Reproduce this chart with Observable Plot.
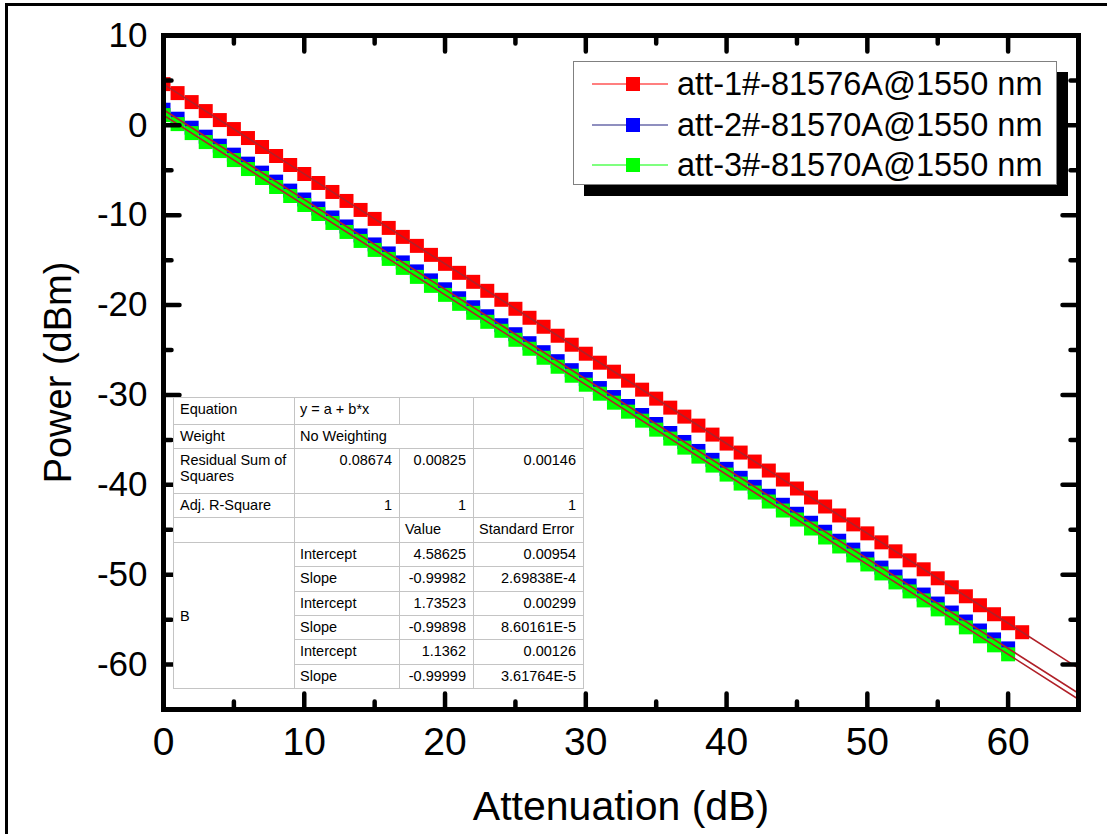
<!DOCTYPE html>
<html>
<head>
<meta charset="utf-8">
<script src="https://cdn.jsdelivr.net/npm/d3@7"></script>
<script src="https://cdn.jsdelivr.net/npm/@observablehq/plot@0.6"></script>
<style>
  html, body { margin: 0; padding: 0; background: #fff; }
  #wrap { position: relative; width: 1107px; height: 834px; overflow: hidden; background: #fff;
          font-family: "Liberation Sans", Arial, sans-serif; }
  #border { position: absolute; left: 5px; top: 3px; width: 1300px; height: 1000px;
            border-top: 3px solid #000; border-left: 3px solid #000; pointer-events: none; }
  #legend { position: absolute; left: 573px; top: 61px; width: 482px; height: 122px; background: #fff;
            border: 1px solid #808080; box-shadow: 11px 11px 0 #000; }
  .item { position: absolute; left: 0; height: 36px; display: flex; align-items: center; }
  .item svg { margin-left: 18px; }
  .item span { margin-left: 9px; font-size: 32.5px; color: #000; white-space: nowrap; }
  #fit { position: absolute; left: 173px; top: 397px; border-collapse: collapse; background: #fff;
         font-size: 14.5px; color: #000; border: 1px solid #8c8c8c; table-layout: fixed; }
  #fit td { border: 1px solid #c4c4c4; padding: 3px 7px 0 5px; vertical-align: top; line-height: 16px;
            white-space: nowrap; overflow: hidden; }
  #fit td.first { padding-left: 6px; padding-right: 0; }
  #fit td.r { text-align: right; }
  #fit td.m { vertical-align: middle; padding-top: 0; }
</style>
</head>
<body>
<div id="wrap"><div id="chart"></div><div id="border"></div></div>
<script>
// ---- data ----
const seriesNames = ["att-1#-81576A@1550 nm", "att-2#-81570A@1550 nm", "att-3#-81570A@1550 nm"];
const seriesColors = ["#ff0000", "#0000ff", "#00ff00"];

const atten1 = [0,1,2,3,4,5,6,7,8,9,10,11,12,13,14,15,16,17,18,19,20,21,22,23,24,25,26,27,28,29,30,31,32,33,34,35,36,37,38,39,40,41,42,43,44,45,46,47,48,49,50,51,52,53,54,55,56,57,58,59,60,61];
const power1 = [4.59,3.59,2.59,1.59,0.59,-0.41,-1.41,-2.41,-3.41,-4.41,-5.41,-6.41,-7.41,-8.41,-9.41,-10.41,-11.41,-12.41,-13.41,-14.41,-15.41,-16.41,-17.41,-18.41,-19.41,-20.41,-21.41,-22.41,-23.41,-24.41,-25.41,-26.41,-27.41,-28.41,-29.41,-30.41,-31.41,-32.41,-33.41,-34.41,-35.41,-36.41,-37.41,-38.41,-39.41,-40.41,-41.41,-42.41,-43.41,-44.40,-45.40,-46.40,-47.40,-48.40,-49.40,-50.40,-51.40,-52.40,-53.40,-54.40,-55.40,-56.40];

const atten2 = [0,1,2,3,4,5,6,7,8,9,10,11,12,13,14,15,16,17,18,19,20,21,22,23,24,25,26,27,28,29,30,31,32,33,34,35,36,37,38,39,40,41,42,43,44,45,46,47,48,49,50,51,52,53,54,55,56,57,58,59,60];
const power2 = [1.74,0.74,-0.26,-1.26,-2.26,-3.26,-4.26,-5.26,-6.26,-7.26,-8.25,-9.25,-10.25,-11.25,-12.25,-13.25,-14.25,-15.25,-16.25,-17.25,-18.24,-19.24,-20.24,-21.24,-22.24,-23.24,-24.24,-25.24,-26.24,-27.24,-28.23,-29.23,-30.23,-31.23,-32.23,-33.23,-34.23,-35.23,-36.23,-37.22,-38.22,-39.22,-40.22,-41.22,-42.22,-43.22,-44.22,-45.22,-46.22,-47.21,-48.21,-49.21,-50.21,-51.21,-52.21,-53.21,-54.21,-55.21,-56.21,-57.20,-58.20];

const atten3 = [0,1,2,3,4,5,6,7,8,9,10,11,12,13,14,15,16,17,18,19,20,21,22,23,24,25,26,27,28,29,30,31,32,33,34,35,36,37,38,39,40,41,42,43,44,45,46,47,48,49,50,51,52,53,54,55,56,57,58,59,60];
const power3 = [1.14,0.14,-0.86,-1.86,-2.86,-3.86,-4.86,-5.86,-6.86,-7.86,-8.86,-9.86,-10.86,-11.86,-12.86,-13.86,-14.86,-15.86,-16.86,-17.86,-18.86,-19.86,-20.86,-21.86,-22.86,-23.86,-24.86,-25.86,-26.86,-27.86,-28.86,-29.86,-30.86,-31.86,-32.86,-33.86,-34.86,-35.86,-36.86,-37.86,-38.86,-39.86,-40.86,-41.86,-42.86,-43.86,-44.86,-45.86,-46.86,-47.86,-48.86,-49.86,-50.86,-51.86,-52.86,-53.86,-54.86,-55.86,-56.86,-57.86,-58.86];

// linear fit results (from the fit table)
const fitIntercepts = [4.58625, 1.73523, 1.1362];
const fitSlopes = [-0.99982, -0.99898, -0.99999];
const fitInterceptErr = ["0.00954", "0.00299", "0.00126"];
const fitSlopeErr = ["2.69838E-4", "8.60161E-5", "3.61764E-5"];
const fitInterceptText = ["4.58625", "1.73523", "1.1362"];
const fitSlopeText = ["-0.99982", "-0.99898", "-0.99999"];
const residualSS = ["0.08674", "0.00825", "0.00146"];
const adjR2 = ["1", "1", "1"];
const fitRange = [0, 65];

const xMajor = [0, 10, 20, 30, 40, 50, 60];
const xMinor = [5, 15, 25, 35, 45, 55, 65];
const yMajor = [10, 0, -10, -20, -30, -40, -50, -60];
const yMinor = [5, -5, -15, -25, -35, -45, -55, -65];

// ---- build tables ----
const allX = [atten1, atten2, atten3];
const allY = [power1, power2, power3];
const rows = [];
allX.forEach((xs, s) => xs.forEach((x, i) => rows.push({series: seriesNames[s], x, y: allY[s][i]})));
const fitRows = [];
seriesNames.forEach((name, s) => fitRange.forEach(x => fitRows.push({series: name, x, y: fitIntercepts[s] + fitSlopes[s] * x})));

const fitColor = "#b02028";
const tick = (data, anchor, rotate, length) => Plot.vector(data, {
  ...(anchor === "bottom" || anchor === "top" ? {x: d => d} : {y: d => d}),
  frameAnchor: anchor, rotate, length, anchor: "start", shape: "arrow", r: 0,
  stroke: "#000", strokeWidth: 4.5
});

const chart = Plot.plot({
  width: 1107, height: 834,
  marginLeft: 163, marginRight: 29, marginTop: 35, marginBottom: 125,
  style: {fontFamily: "'Liberation Sans', Arial, sans-serif", background: "transparent", color: "#000"},
  x: {domain: [0, 65]},
  y: {domain: [-65, 10]},
  color: {domain: seriesNames, range: seriesColors},
  marks: [
    Plot.line(rows, {x: "x", y: "y", z: "series", stroke: "series", strokeWidth: 1, clip: true}),
    Plot.dot(rows, {x: "x", y: "y", fill: "series", symbol: "square", r: 7.9, clip: true}),
    Plot.line(fitRows, {x: "x", y: "y", z: "series", stroke: fitColor, strokeWidth: 1.6, clip: true}),
    Plot.frame({stroke: "#000", strokeWidth: 5}),
    tick(xMajor, "bottom", 0, 16), tick(xMinor, "bottom", 0, 8),
    tick(xMajor, "top", 180, 16), tick(xMinor, "top", 180, 8),
    tick(yMajor, "left", 90, 16), tick(yMinor, "left", 90, 8),
    tick(yMajor, "right", -90, 16), tick(yMinor, "right", -90, 8),
    Plot.axisX({ticks: xMajor, tickSize: 0, tickPadding: 18, fontSize: 39, label: null, tickFormat: d => String(d)}),
    Plot.axisY({ticks: yMajor, tickSize: 0, tickPadding: 16, fontSize: 35, label: null, tickFormat: d => String(d)}),
    Plot.text(["Attenuation (dB)"], {text: d => d, frameAnchor: "bottom", textAnchor: "middle", lineAnchor: "middle", dy: 97, fontSize: 41}),
    Plot.text(["Power (dBm)"], {text: d => d, frameAnchor: "left", textAnchor: "middle", lineAnchor: "middle", dx: -105, rotate: -90, fontSize: 38})
  ]
});
document.getElementById("chart").appendChild(chart);

// ---- legend ----
const wrap = document.getElementById("wrap");
const legend = document.createElement("div");
legend.id = "legend";
const itemTops = [4, 45, 85];
seriesNames.forEach((name, s) => {
  const it = document.createElement("div");
  it.className = "item";
  it.style.top = itemTops[s] + "px";
  const c = seriesColors[s];
  const lineCol = s === 1 ? "#202080" : c;
  it.innerHTML = `<svg width="76" height="16"><line x1="0" y1="8" x2="76" y2="8" stroke="${lineCol}" stroke-width="1.2"/><rect x="34" y="1" width="14" height="14" fill="${c}"/></svg><span>${name}</span>`;
  legend.appendChild(it);
});
wrap.appendChild(legend);

// ---- fit table ----
const colW = [121, 105, 74, 110];
const rowH = [27, 24, 45, 24, 25, 24, 25, 24, 24, 25, 24];
let html = `<colgroup>${colW.map(w => `<col style="width:${w}px">`).join("")}</colgroup>`;
const tr = (h, cells) => `<tr style="height:${h}px">${cells}</tr>`;
html += tr(rowH[0], `<td class="first">Equation</td><td>y = a + b*x</td><td></td><td></td>`);
html += tr(rowH[1], `<td class="first">Weight</td><td colspan="2">No Weighting</td><td></td>`);
html += tr(rowH[2], `<td class="first">Residual Sum of<br>Squares</td>${residualSS.map(v => `<td class="r">${v}</td>`).join("")}`);
html += tr(rowH[3], `<td class="first">Adj. R-Square</td>${adjR2.map(v => `<td class="r">${v}</td>`).join("")}`);
html += tr(rowH[4], `<td class="first"></td><td></td><td>Value</td><td>Standard Error</td>`);
let r = 5;
seriesNames.forEach((_, s) => {
  const first = s === 0 ? `<td rowspan="6" class="m first">B</td>` : "";
  html += tr(rowH[r++], `${first}<td>Intercept</td><td class="r">${fitInterceptText[s]}</td><td class="r">${fitInterceptErr[s]}</td>`);
  html += tr(rowH[r++], `<td>Slope</td><td class="r">${fitSlopeText[s]}</td><td class="r">${fitSlopeErr[s]}</td>`);
});
const table = document.createElement("table");
table.id = "fit";
table.innerHTML = html;
wrap.appendChild(table);
</script>
</body>
</html>
